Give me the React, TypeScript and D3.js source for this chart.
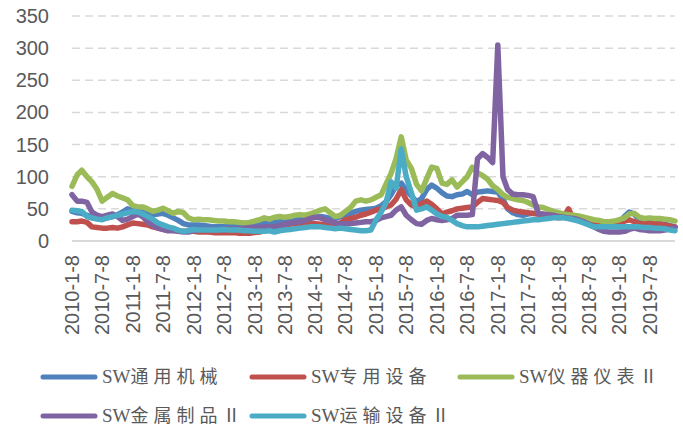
import React from 'react';
import * as d3 from 'd3';

// Monthly observations, 2010-01 .. 2019-12
const DATES = [
  '2010-01-08', '2010-02-08', '2010-03-08', '2010-04-08', '2010-05-08', '2010-06-08', '2010-07-08', '2010-08-08', '2010-09-08', '2010-10-08', '2010-11-08', '2010-12-08',
  '2011-01-08', '2011-02-08', '2011-03-08', '2011-04-08', '2011-05-08', '2011-06-08', '2011-07-08', '2011-08-08', '2011-09-08', '2011-10-08', '2011-11-08', '2011-12-08',
  '2012-01-08', '2012-02-08', '2012-03-08', '2012-04-08', '2012-05-08', '2012-06-08', '2012-07-08', '2012-08-08', '2012-09-08', '2012-10-08', '2012-11-08', '2012-12-08',
  '2013-01-08', '2013-02-08', '2013-03-08', '2013-04-08', '2013-05-08', '2013-06-08', '2013-07-08', '2013-08-08', '2013-09-08', '2013-10-08', '2013-11-08', '2013-12-08',
  '2014-01-08', '2014-02-08', '2014-03-08', '2014-04-08', '2014-05-08', '2014-06-08', '2014-07-08', '2014-08-08', '2014-09-08', '2014-10-08', '2014-11-08', '2014-12-08',
  '2015-01-08', '2015-02-08', '2015-03-08', '2015-04-08', '2015-05-08', '2015-06-08', '2015-07-08', '2015-08-08', '2015-09-08', '2015-10-08', '2015-11-08', '2015-12-08',
  '2016-01-08', '2016-02-08', '2016-03-08', '2016-04-08', '2016-05-08', '2016-06-08', '2016-07-08', '2016-08-08', '2016-09-08', '2016-10-08', '2016-11-08', '2016-12-08',
  '2017-01-08', '2017-02-08', '2017-03-08', '2017-04-08', '2017-05-08', '2017-06-08', '2017-07-08', '2017-08-08', '2017-09-08', '2017-10-08', '2017-11-08', '2017-12-08',
  '2018-01-08', '2018-02-08', '2018-03-08', '2018-04-08', '2018-05-08', '2018-06-08', '2018-07-08', '2018-08-08', '2018-09-08', '2018-10-08', '2018-11-08', '2018-12-08',
  '2019-01-08', '2019-02-08', '2019-03-08', '2019-04-08', '2019-05-08', '2019-06-08', '2019-07-08', '2019-08-08', '2019-09-08', '2019-10-08', '2019-11-08', '2019-12-08'
];

const SW_GENERAL = [
  46, 44, 43, 40, 36, 35, 35, 36, 38, 41, 45, 50,
  48, 47, 45, 42, 41, 42, 43, 40, 36, 32, 27, 25,
  25, 25, 24, 23, 22, 22, 22, 23, 24, 24, 25, 26,
  27, 28, 28, 27, 29, 30, 31, 33, 33, 34, 35, 36,
  37, 38, 37, 35, 35, 38, 40, 43, 46, 48, 49, 50,
  51, 55, 61, 72, 86, 90, 79, 70, 61, 66, 80, 87,
  82, 75, 70, 69, 72, 73, 77, 72, 76, 77, 78, 77,
  76, 65, 50, 44, 41, 40, 42, 43, 42, 40, 40, 39,
  38, 37, 36, 35, 33, 30, 27, 25, 24, 24, 25, 26,
  30, 38, 45, 42, 32, 30, 29, 28, 27, 26, 24, 22
];

const SW_SPECIAL = [
  30, 30, 31, 29, 22, 21, 20, 20, 21, 20, 22, 25,
  28, 27, 26, 25, 22, 20, 18, 17, 17, 16, 15, 15,
  15, 14, 14, 14, 13, 13, 13, 13, 13, 12, 12, 12,
  13, 14, 16, 18, 21, 23, 24, 26, 27, 27, 27, 27,
  27, 26, 25, 26, 25, 28, 33, 35, 37, 40, 42, 45,
  48, 50, 53, 56, 65, 80, 64, 56, 53, 58, 62, 57,
  50, 42, 45, 47, 50, 51, 52, 53, 60, 66, 65, 64,
  63, 60, 52, 48, 46, 45, 44, 43, 42, 41, 40, 38,
  36, 37, 50, 34, 33, 31, 28, 26, 25, 25, 25, 26,
  28, 31, 33, 30, 27, 27, 27, 27, 26, 25, 23, 22
];

const SW_INSTRUMENT = [
  85, 103, 110, 100, 92, 80, 62, 68, 74, 70, 67, 64,
  55, 53, 53, 50, 46, 48, 51, 47, 43, 46, 44, 36,
  33, 34, 33, 33, 32, 31, 31, 30, 30, 29, 28, 29,
  31, 33, 36, 34, 37, 38, 37, 38, 40, 41, 40, 42,
  45, 48, 50, 44, 38, 40, 46, 52, 62, 64, 62, 64,
  68, 72, 88, 105, 128, 162, 126, 113, 88, 78, 97, 115,
  113, 90, 88, 95, 84, 92, 100, 115, 106, 102, 96, 86,
  80, 72, 68, 66, 64, 63, 60, 56, 53, 52, 49, 46,
  44, 42, 41, 40, 39, 37, 35, 33, 32, 30, 30, 31,
  33, 36, 42, 43, 37, 35, 36, 35, 35, 34, 33, 31
];

const SW_METAL = [
  72, 62, 62, 60, 45, 40, 38, 40, 42, 38, 32, 34,
  38, 42, 38, 30, 24, 20, 18, 16, 16, 15, 14, 14,
  16, 17, 18, 18, 18, 17, 18, 19, 18, 19, 20, 21,
  21, 21, 22, 22, 22, 24, 26, 28, 29, 30, 32, 35,
  37, 36, 33, 31, 28, 27, 27, 27, 28, 29, 30, 30,
  32, 36, 38, 40, 48, 53, 40, 33, 27, 26, 32, 35,
  33, 32, 33, 35, 40, 40, 40, 41, 128, 136, 130, 122,
  305, 100, 80, 73, 72, 72, 71, 69, 43, 42, 41, 40,
  38, 37, 36, 35, 33, 30, 26, 22, 18, 15, 14, 14,
  14, 15, 18, 20, 18, 17, 16, 16, 16, 17, 19, 21
];

const SW_TRANSPORT = [
  48, 47, 46, 38, 36, 34, 33, 36, 38, 40, 42, 44,
  46, 45, 42, 38, 34, 28, 25, 22, 20, 17, 15, 16,
  18, 17, 17, 17, 17, 17, 18, 17, 17, 17, 16, 16,
  15, 15, 15, 16, 14, 16, 17, 18, 19, 20, 21, 22,
  22, 22, 21, 20, 19, 20, 19, 18, 17, 16, 16, 17,
  33, 45, 59, 92, 82, 143, 100, 75, 48, 50, 53, 48,
  42, 38, 37, 32, 27, 24, 22, 22, 22, 23, 24, 25,
  26, 27, 28, 29, 30, 31, 32, 33, 33, 34, 35, 36,
  36, 36, 35, 33, 31, 28, 25, 22, 22, 22, 22, 22,
  22, 22, 22, 22, 22, 21, 21, 20, 20, 19, 17, 16
];

const SERIES_PREFIX = 'SW';
const SERIES_NAMES = ['通用机械', '专用设备', '仪器仪表Ⅱ', '金属制品Ⅱ', '运输设备Ⅱ'];
const SERIES_COLORS = ['#4f81bd', '#c0504d', '#9bbb59', '#8064a2', '#4bacc6'];
const SERIES_VALUES = [SW_GENERAL, SW_SPECIAL, SW_INSTRUMENT, SW_METAL, SW_TRANSPORT];

const Y_TICKS = [0, 50, 100, 150, 200, 250, 300, 350];
const X_TICK_LABELS = [
  '2010-1-8', '2010-7-8', '2011-1-8', '2011-7-8', '2012-1-8', '2012-7-8', '2013-1-8',
  '2013-7-8', '2014-1-8', '2014-7-8', '2015-1-8', '2015-7-8', '2016-1-8', '2016-7-8',
  '2017-1-8', '2017-7-8', '2018-1-8', '2018-7-8', '2019-1-8', '2019-7-8'
];

const W = 683, H = 428;
const margin = {left: 72, right: 8, top: 16, bottom: 187};

const parse = d3.timeParse('%Y-%m-%d');
const AXIS_FONT = "'Liberation Sans', Arial, sans-serif";
const LATIN_FONT = "'Liberation Serif', serif";
const CJK_FONT = "'Noto Sans CJK SC', sans-serif";

export default function App () {
  const dates = DATES.map(d => parse(d) as Date);

  const x = d3.scaleTime()
    .domain([dates[0], dates[dates.length - 1]])
    .range([margin.left, W - margin.right]);
  const y = d3.scaleLinear()
    .domain([0, 350])
    .range([H - margin.bottom, margin.top]);

  const line = d3.line<number>()
    .x((d, i) => x(dates[i]))
    .y(d => y(d));

  const legendCols = [43, 252, 460];
  const legendRows = [377, 416];

  return (
    <svg width={W} height={H} style={{position: 'absolute', left: 0, top: 0, background: '#fff'}}>
      {/* gridlines */}
      {Y_TICKS.filter(t => t > 0).map(t => (
        <line key={'g' + t} x1={margin.left} x2={W - margin.right} y1={y(t)} y2={y(t)}
          stroke='#d9d9d9' strokeWidth={1.5} strokeDasharray='8 5' />
      ))}
      <line x1={margin.left} x2={W - margin.right} y1={y(0)} y2={y(0)} stroke='#d9d9d9' strokeWidth={2} />

      {/* y labels */}
      {Y_TICKS.map(t => (
        <text key={'y' + t} x={49} y={y(t)} dy='0.35em' textAnchor='end'
          fontFamily={AXIS_FONT} fontSize={20} fill='#595959'>{t}</text>
      ))}

      {/* x labels */}
      {X_TICK_LABELS.map(l => {
        const px = x(parse(l) as Date);
        return (
          <text key={l} transform={`translate(${px},255) rotate(-90)`} dy='0.35em' textAnchor='end'
            fontFamily={AXIS_FONT} fontSize={20} fill='#595959'>{l}</text>
        );
      })}

      {/* series */}
      {SERIES_VALUES.map((vals, i) => (
        <path key={SERIES_NAMES[i]} d={line(vals) || ''} fill='none' stroke={SERIES_COLORS[i]}
          strokeWidth={5.5} strokeLinejoin='round' strokeLinecap='round' />
      ))}

      {/* legend */}
      {SERIES_NAMES.map((name, i) => {
        const lx = legendCols[i % 3];
        const ly = legendRows[Math.floor(i / 3)];
        return (
          <g key={'l' + name}>
            <line x1={lx} x2={lx + 52} y1={ly} y2={ly} stroke={SERIES_COLORS[i]} strokeWidth={5} strokeLinecap='round' />
            <text x={lx + 59} y={ly} dy='0.36em' fontSize={18} fill='#595959'>
              <tspan fontFamily={LATIN_FONT} fontSize={19}>{SERIES_PREFIX}</tspan>
              <tspan fontFamily={CJK_FONT} letterSpacing={5}>{name}</tspan>
            </text>
          </g>
        );
      })}
    </svg>
  );
}
